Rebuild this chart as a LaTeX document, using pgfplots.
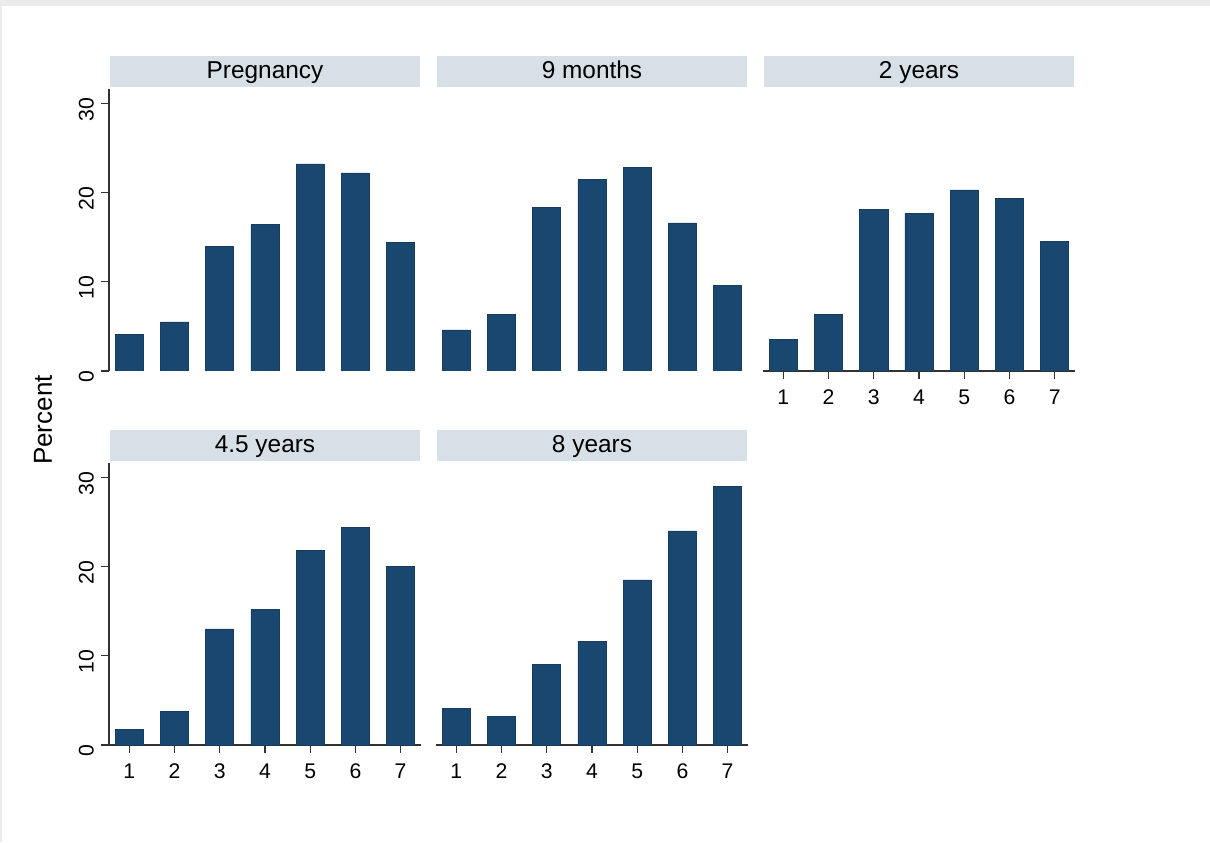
\documentclass[border=0pt]{standalone}
\usepackage{fontspec}
\setmainfont{Liberation Sans}
\usepackage{pgfplots}
\usepackage{pgfplotstable}
\pgfplotsset{compat=1.18}
\definecolor{stnavy}{RGB}{26,71,111}
\definecolor{stripc}{RGB}{214,224,230}
\definecolor{axc}{RGB}{50,50,50}

\pgfplotstableread{
x y
1 4.1
2 5.5
3 14.0
4 16.4
5 23.2
6 22.2
7 14.4
}\tpreg
\pgfplotstableread{
x y
1 4.6
2 6.3
3 18.3
4 21.5
5 22.8
6 16.6
7 9.6
}\tnine
\pgfplotstableread{
x y
1 3.55
2 6.3
3 18.1
4 17.7
5 20.3
6 19.3
7 14.5
}\ttwo
\pgfplotstableread{
x y
1 1.75
2 3.8
3 13.0
4 15.2
5 21.8
6 24.4
7 20.0
}\tfour
\pgfplotstableread{
x y
1 4.1
2 3.25
3 9.0
4 11.6
5 18.5
6 24.0
7 29.0
}\teight

\pgfplotsset{
 panel/.style={
  scale only axis, width=156pt, height=141pt,
  xmin=0.55, xmax=7.45, ymin=0, ymax=31.6,
  xtick={1,...,7}, ytick={0,10,20,30},
  tick align=outside,
  major tick length=4pt,
  axis line style={axc, line width=0.6pt},
  tick style={axc, line width=0.6pt},
  ticklabel style={font=\fontsize{10.6}{12}\selectfont},
  /pgf/number format/assume math mode=true,
  yticklabel style={rotate=90, anchor=south, xshift=-3pt},
  xticklabel style={yshift=-2pt},
  every axis title/.style={at={(0.5,1)}, anchor=south, yshift=0.6pt, fill=stripc,
    minimum width=155pt, minimum height=15.5pt, inner sep=0pt,
    text height=8.8pt, text depth=2.6pt,
    font=\fontsize{12.2}{14}\selectfont},
 },
 bars/.style={ybar, bar width=0.62, fill=stnavy, draw=stnavy!85!black, line width=0.3pt},
}

\begin{document}
\begin{tikzpicture}
\path[use as bounding box] (0,0) rectangle (605pt,421pt);
\fill[black!8] (0,418pt) rectangle (605pt,421pt);
\fill[black!8] (0,0) rectangle (1pt,421pt);

\begin{axis}[panel, at={(54.5pt,235.5pt)}, anchor=south west,
  axis x line=none, axis y line*=left, title={Pregnancy}]
\addplot[bars] table[x=x,y=y] {\tpreg};
\end{axis}

\begin{axis}[panel, at={(218pt,235.5pt)}, anchor=south west,
  axis x line=none, axis y line=none, title={9 months}]
\addplot[bars] table[x=x,y=y] {\tnine};
\end{axis}

\begin{axis}[panel, at={(381.5pt,235.5pt)}, anchor=south west,
  axis x line*=bottom, axis y line=none, title={2 years}]
\addplot[bars] table[x=x,y=y] {\ttwo};
\end{axis}

\begin{axis}[panel, at={(54.5pt,48.5pt)}, anchor=south west,
  axis x line*=bottom, axis y line*=left, title={4.5 years}]
\addplot[bars] table[x=x,y=y] {\tfour};
\end{axis}

\begin{axis}[panel, at={(218pt,48.5pt)}, anchor=south west,
  axis x line*=bottom, axis y line=none, title={8 years}]
\addplot[bars] table[x=x,y=y] {\teight};
\end{axis}

\node[rotate=90, font=\fontsize{13}{15}\selectfont] at (21.5pt,211pt) {Percent};
\end{tikzpicture}
\end{document}
